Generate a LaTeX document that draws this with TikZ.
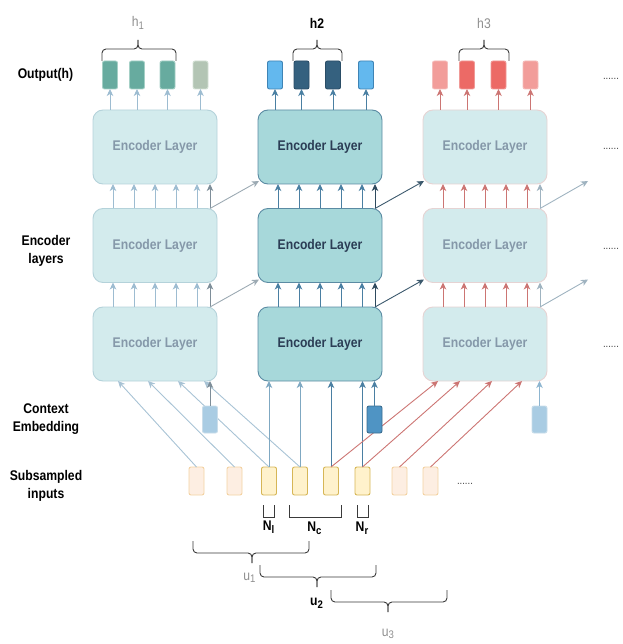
\documentclass[tikz,border=0pt]{standalone}
\usepackage{fontspec}
\setmainfont[FakeStretch=0.87]{Liberation Sans}
\usetikzlibrary{arrows.meta,calc}

% layer boxes
\definecolor{paleFill}{HTML}{D3EBED}
\definecolor{paleLine}{HTML}{B4D2DA}
\definecolor{paleLineRed}{HTML}{E6D3D3}
\definecolor{paleText}{HTML}{8598A9}
\definecolor{mainFill}{HTML}{A7D8DA}
\definecolor{mainLine}{HTML}{5B8BA3}
\definecolor{mainText}{HTML}{2B3D55}
% output cells
\definecolor{tealCell}{HTML}{67AB9F}
\definecolor{tealLine}{HTML}{A5D0C6}
\definecolor{sageCell}{HTML}{B3C5B4}
\definecolor{sageLine}{HTML}{D5E2D6}
\definecolor{skyCell}{HTML}{63B8EE}
\definecolor{skyLine}{HTML}{3F84B5}
\definecolor{navyCell}{HTML}{35617F}
\definecolor{navyLine}{HTML}{2A4D66}
\definecolor{roseCell}{HTML}{F29D9A}
\definecolor{roseLine}{HTML}{F5BDBB}
\definecolor{redCell}{HTML}{EC6A66}
\definecolor{redLine}{HTML}{F09A97}
% context cells
\definecolor{ctxPale}{HTML}{A9CCE3}
\definecolor{ctxPaleLine}{HTML}{C9DDEA}
\definecolor{ctxMain}{HTML}{4F94C4}
\definecolor{ctxMainLine}{HTML}{3B6D90}
% input cells
\definecolor{inFill}{HTML}{FFF2CC}
\definecolor{inLine}{HTML}{D6B656}
\definecolor{inPaleFill}{HTML}{FDEEE2}
\definecolor{inPaleLine}{HTML}{F3D2A2}
% connectors
\definecolor{arPale}{HTML}{9DBCD1}
\definecolor{arGray}{HTML}{7E8E99}
\definecolor{arMain}{HTML}{4A7FA2}
\definecolor{arMid}{HTML}{7FA8C2}
\definecolor{arDark}{HTML}{2E4A5E}
\definecolor{arRedSoft}{HTML}{CC7573}
\definecolor{arDiagPale}{HTML}{A8C3D5}
\definecolor{arCross}{HTML}{9CAAB3}
\definecolor{arCrossDark}{HTML}{3C596D}
\definecolor{arCrossLight}{HTML}{9FB3C0}
\definecolor{arCtxLight}{HTML}{8DB5D0}
\definecolor{braceInk}{HTML}{3A3A3A}
\definecolor{softLabel}{HTML}{8F8F8F}

\newcommand\lowsub[1]{\raisebox{-0.35ex}{\fontsize{11}{11}\selectfont#1}}
% curly brace: x-left, x-right, x-tip, y-ends, y-bar, y-tip
\newcommand\drawcurly[6]{%
  \draw[curlyink] (#1,#4) -- (#1,#5) -- (#3,#5) -- (#3,#6);
  \draw[curlyink] (#2,#4) -- (#2,#5) -- (#3,#5) -- (#3,#6);}

\begin{document}
\begin{tikzpicture}[x=1pt,y=-1pt,
  every node/.style={inner sep=0pt, outer sep=0pt},
  layerbox/.style={rounded corners=10pt, minimum width=124pt, minimum height=74pt,
    font=\fontsize{14}{16}\selectfont\bfseries, line width=0.9pt},
  palelayer/.style={layerbox, fill=paleFill, draw=paleLine, text=paleText},
  palelayerred/.style={palelayer, draw=paleLineRed},
  mainlayer/.style={layerbox, fill=mainFill, draw=mainLine, text=mainText},
  cell/.style={rounded corners=2pt, minimum width=15pt, minimum height=28pt, line width=0.9pt},
  ctxcell/.style={cell, minimum height=27pt},
  sidelabel/.style={font=\fontsize{14}{18}\selectfont\bfseries, align=center},
  toplabel/.style={font=\fontsize{14}{14}\selectfont},
  boldlabel/.style={font=\fontsize{14}{14}\selectfont\bfseries},
  dotslabel/.style={font=\fontsize{11}{11}\selectfont, text=black!75, anchor=base west},
  arr/.style={-{Stealth[length=7pt,width=6.5pt,inset=2pt]}, line width=0.9pt},
  curlyink/.style={draw=braceInk, line width=0.9pt, rounded corners=4pt},
  bracketink/.style={draw=braceInk, line width=0.9pt},
]
\useasboundingbox (0,0) rectangle (622,644);

% ---------- encoder layers ----------
\node[palelayer] (T1) at (155,147) {Encoder Layer};
\node[palelayer] (M1) at (155,245.5) {Encoder Layer};
\node[palelayer] (B1) at (155,344) {Encoder Layer};
\node[mainlayer] (T2) at (320,147) {Encoder Layer};
\node[mainlayer] (M2) at (320,245.5) {Encoder Layer};
\node[mainlayer] (B2) at (320,344) {Encoder Layer};
\node[palelayerred] (T3) at (485,147) {Encoder Layer};
\node[palelayerred] (M3) at (485,245.5) {Encoder Layer};
\node[palelayerred] (B3) at (485,344) {Encoder Layer};

% ---------- output cells ----------
\node[cell, fill=tealCell, draw=tealLine] (o11) at (110,75) {};
\node[cell, fill=tealCell, draw=tealLine] (o12) at (137,75) {};
\node[cell, fill=tealCell, draw=tealLine] (o13) at (167.5,75) {};
\node[cell, fill=sageCell, draw=sageLine] (o14) at (200.5,75) {};
\node[cell, fill=skyCell, draw=skyLine] (o21) at (275,75) {};
\node[cell, fill=navyCell, draw=navyLine] (o22) at (301.5,75) {};
\node[cell, fill=navyCell, draw=navyLine] (o23) at (333,75) {};
\node[cell, fill=skyCell, draw=skyLine] (o24) at (366,75) {};
\node[cell, fill=roseCell, draw=roseLine] (o31) at (440,75) {};
\node[cell, fill=redCell, draw=redLine] (o32) at (467,75) {};
\node[cell, fill=redCell, draw=redLine] (o33) at (498.5,75) {};
\node[cell, fill=roseCell, draw=roseLine] (o34) at (530.5,75) {};

% layer outputs
\foreach \o in {o11,o12,o13,o14} \draw[arr, arPale] (\o.south |- T1.north) -- (\o.south);
\foreach \o in {o21,o22,o23,o24} \draw[arr, arMain] (\o.south |- T2.north) -- (\o.south);
\foreach \o in {o31,o32,o33,o34} \draw[arr, arRedSoft] (\o.south |- T3.north) -- (\o.south);

% ---------- arrows between stacked layers ----------
\foreach \lo/\hi/\col/\last in {B1/M1/arPale/arGray, M1/T1/arPale/arGray,
                               B2/M2/arMain/arDark, M2/T2/arMain/arDark,
                               B3/M3/arRedSoft/arCrossLight, M3/T3/arRedSoft/arCrossLight}{
  \foreach \dx in {20,41,62,83,104}
    \draw[arr, \col] ($(\lo.north west)+(\dx,0)$) -- ($(\hi.south west)+(\dx,0)$);
  \draw[arr, \last] ($(\lo.north west)+(117,0)$) -- ($(\hi.south west)+(117,0)$);
}

% ---------- arrows from one block to the next ----------
\draw[arr, arCross] ($(B1.north west)+(117,0)$) -- ($(M2.south west)+(1,-3)$);
\draw[arr, arCross] ($(M1.north west)+(117,0)$) -- ($(T2.south west)+(1,-3)$);
\draw[arr, arCrossDark] ($(B2.north west)+(117,0)$) -- ($(M3.south west)+(1,-3)$);
\draw[arr, arCrossDark] ($(M2.north west)+(117,0)$) -- ($(T3.south west)+(1,-3)$);
\coordinate (nextM) at ($(M3.south east)+(41,-3)$);
\coordinate (nextT) at ($(T3.south east)+(41,-3)$);
\draw[arr, arCrossLight] ($(B3.north west)+(117,0)$) -- (nextM);
\draw[arr, arCrossLight] ($(M3.north west)+(117,0)$) -- (nextT);

% ---------- subsampled inputs ----------
\node[cell, fill=inPaleFill, draw=inPaleLine] (in1) at (196.5,481) {};
\node[cell, fill=inPaleFill, draw=inPaleLine] (in2) at (234.5,481) {};
\node[cell, fill=inFill, draw=inLine] (in3) at (269,481) {};
\node[cell, fill=inFill, draw=inLine] (in4) at (300,481) {};
\node[cell, fill=inFill, draw=inLine] (in5) at (331,481) {};
\node[cell, fill=inFill, draw=inLine] (in6) at (362.5,481) {};
\node[cell, fill=inPaleFill, draw=inPaleLine] (in7) at (399.5,481) {};
\node[cell, fill=inPaleFill, draw=inPaleLine] (in8) at (430.5,481) {};

% inputs into the first block
\draw[arr, arDiagPale] (in1.north) -- ($(B1.south west)+(25,0)$);
\draw[arr, arDiagPale] (in2.north) -- ($(B1.south west)+(55,0)$);
\draw[arr, arDiagPale] (in3.north) -- ($(B1.south west)+(85,0)$);
\draw[arr, arDiagPale] (in4.north) -- ($(B1.south west)+(111,0)$);
% inputs into the second block
\draw[arr, arMid] (in3.north) -- (in3.north |- B2.south);
\draw[arr, arMid] (in4.north) -- (in4.north |- B2.south);
\draw[arr, arMain] (in5.north) -- (in5.north |- B2.south);
\draw[arr, arMain] (in6.north) -- (in6.north |- B2.south);
% inputs into the third block
\draw[arr, arRedSoft] (in5.north) -- ($(B3.south west)+(15,0)$);
\draw[arr, arRedSoft] (in6.north) -- ($(B3.south west)+(37,0)$);
\draw[arr, arRedSoft] (in7.north) -- ($(B3.south west)+(69,0)$);
\draw[arr, arRedSoft] (in8.north) -- ($(B3.south west)+(99,0)$);

% ---------- context embeddings ----------
\node[ctxcell, fill=ctxPale, draw=ctxPaleLine] (c1) at (210,419.5) {};
\node[ctxcell, fill=ctxMain, draw=ctxMainLine] (c2) at (374.5,419.5) {};
\node[ctxcell, fill=ctxPale, draw=ctxPaleLine] (c3) at (539.5,419.5) {};
\draw[arr, arGray] (c1.north) -- (c1.north |- B1.south);
\draw[arr, arMain] (c2.north) -- (c2.north |- B2.south);
\draw[arr, arCtxLight] (c3.north) -- (c3.north |- B3.south);

% ---------- continuation dots ----------
\node[dotslabel] (dOut) at (603,80) {......};
\node[dotslabel] (dTop) at (603,150) {......};
\node[dotslabel] (dMid) at (603,249) {......};
\node[dotslabel] (dBot) at (603,347) {......};
\node[dotslabel] (dIn) at (457,484) {......};

% ---------- row labels ----------
\node[sidelabel] (lblOut) at (45.5,75) {Output(h)};
\node[sidelabel] (lblEnc) at (46,251) {Encoder\\layers};
\node[sidelabel] (lblCtx) at (46,419) {Context\\Embedding};
\node[sidelabel] (lblIn) at (46,486) {Subsampled\\inputs};

% ---------- output groups ----------
\drawcurly{102}{176}{138}{61}{49}{40}
\drawcurly{293}{342}{317}{61}{49}{40}
\drawcurly{459}{509}{484}{61}{49}{40}
\node[toplabel, text=softLabel] (h1) at (138,23) {h\lowsub{1}};
\node[boldlabel] (h2) at (317,23) {h2};
\node[toplabel, text=softLabel] (h3) at (484,23) {h3};

% ---------- chunk sizes ----------
\draw[bracketink] (263,505) |- (274,517) -- (274,505);
\draw[bracketink] (289,505) |- (341,517) -- (341,505);
\draw[bracketink] (357,505) |- (368,517) -- (368,505);
\node[boldlabel] (Nl) at (268.5,527) {N\lowsub{l}};
\node[boldlabel] (Nc) at (314.5,528) {N\lowsub{c}};
\node[boldlabel] (Nr) at (362,528) {N\lowsub{r}};

% ---------- utterance windows ----------
\drawcurly{193}{309}{252}{541}{553}{563}
\drawcurly{260}{376}{317}{565}{577}{587}
\drawcurly{331}{447}{388}{590}{602}{612}
\node[toplabel, text=softLabel] (u1) at (249.5,578) {u\lowsub{1}};
\node[boldlabel] (u2) at (316.5,603) {u\lowsub{2}};
\node[toplabel, text=softLabel] (u3) at (388,634) {u\lowsub{3}};
\end{tikzpicture}
\end{document}
